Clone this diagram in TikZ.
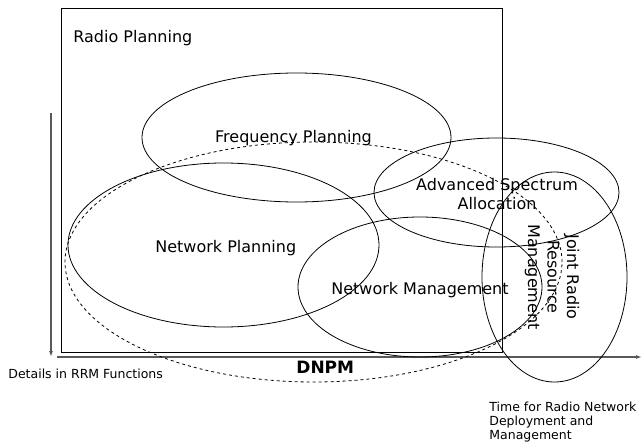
\documentclass[tikz,border=0pt]{standalone}
\usepackage{fontspec}
\setmainfont{DejaVu Sans}
\usetikzlibrary{arrows.meta}
\tikzset{
  bigtext/.style={font=\fontsize{16}{19.5}\selectfont, align=center, inner sep=0pt},
  smalltext/.style={font=\fontsize{12.5}{14}\selectfont, align=left, inner sep=0pt},
  axis/.style={black!65, line width=1.3pt, -{Latex[length=6pt,width=4pt]}}
}
\begin{document}
\begin{tikzpicture}[x=1pt, y=-1pt, line width=0.8pt]
  \useasboundingbox (0,0) rectangle (643,444);
  \draw (61,8) rectangle (502,352);
  \coordinate (ytop) at (51,113);
  \coordinate (ybot) at (51,357);
  \coordinate (xleft) at (57,357);
  \coordinate (xright) at (642,357);
  \draw[axis] (ytop) -- (ybot);
  \draw[axis] (xleft) -- (xright);
  \foreach \cx/\cy/\rx/\ry in {
    296.5/137.5/154.5/64.5, 223.5/245/155.5/82,
    496.5/192.5/122.5/54.5, 420/287/122/70,
    554.5/277/72.5/105} {
    \draw (\cx,\cy) ellipse [x radius=\rx pt, y radius=\ry pt];
  }
  \draw[dashed] (313.5,262) ellipse [x radius=248.5pt, y radius=120pt];
  \node[bigtext, anchor=base west] (radio) at (73,43) {Radio Planning};
  \node[bigtext, anchor=base] (freq) at (293.5,142.5) {Frequency Planning};
  \node[bigtext, anchor=base west] (netplan) at (155,252.3) {Network Planning};
  \node[bigtext, anchor=base] (spectrum) at (497,209.5) {Advanced Spectrum\\Allocation};
  \node[bigtext, anchor=base] (netman) at (420,294.3) {Network Management};
  \node[bigtext, rotate=-90] (jrrm) at (552,277) {Joint Radio\\Resource\\Management};
  \node[bigtext, font=\fontsize{17}{20}\bfseries, anchor=base west] (dnpm) at (296,373.3) {DNPM};
  \node[smalltext, anchor=base west] (details) at (8,378) {Details in RRM Functions};
  \node[smalltext, anchor=base west] (timelbl) at (489,439) {Time for Radio Network\\Deployment and\\Management};
\end{tikzpicture}
\end{document}
